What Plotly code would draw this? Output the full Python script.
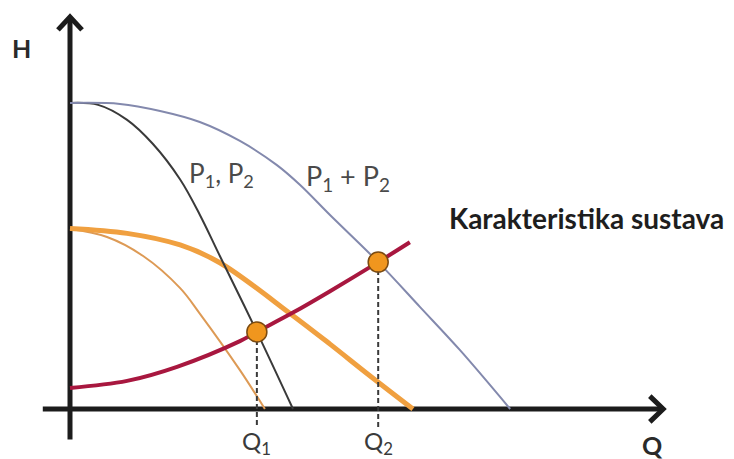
import plotly.graph_objects as go

# pump curves (Q, H in arbitrary units)
q_single = [0, 0.63, 1.28, 1.86, 2.47, 2.91, 3.36, 4.19, 5.0]
h_single = [10.0, 9.94, 9.45, 8.66, 7.5, 6.35, 5.0, 2.52, 0]

q_parallel = [0, 1.12, 2.02, 2.91, 3.81, 4.64, 5.16, 5.83, 6.91, 7.85, 8.74, 9.87]
h_parallel = [10.0, 9.97, 9.74, 9.38, 8.76, 7.97, 7.32, 6.34, 4.8, 3.33, 1.93, 0]

q_orange_thick = [0, 1.28, 2.47, 3.36, 5.0, 5.83, 6.73, 7.69]
h_orange_thick = [5.9, 5.74, 5.36, 4.78, 3.05, 2.12, 1.08, 0]

q_orange_thin = [0, 0.83, 1.64, 2.47, 2.91, 3.81, 4.37]
h_orange_thin = [5.88, 5.62, 5.0, 3.95, 3.12, 1.27, 0]

q_system = [0, 1.28, 2.40, 3.81, 4.19, 5.0, 5.83, 6.91, 7.62]
h_system = [0.69, 0.92, 1.38, 2.22, 2.52, 3.15, 3.85, 4.8, 5.45]

op_q = [4.19, 6.91]
op_h = [2.52, 4.8]
op_labels = ["Q<sub>1</sub>", "Q<sub>2</sub>"]

font = "Lato"

fig = go.Figure()

# axes with open arrowheads
q_max, h_max = 13.3, 12.81
axis_style = dict(color="#1c1c1c", width=5)
fig.add_trace(go.Scatter(x=[0, 0], y=[-1.0, h_max], mode="lines", line=axis_style))
fig.add_trace(go.Scatter(x=[-0.61, q_max], y=[0, 0], mode="lines", line=axis_style))
fig.add_trace(go.Scatter(x=[-0.27, 0, 0.27], y=[h_max - 0.42, h_max, h_max - 0.42],
                         mode="lines", line=dict(color="#1c1c1c", width=5)))
fig.add_trace(go.Scatter(x=[q_max - 0.3, q_max, q_max - 0.3], y=[0.42, 0, -0.42],
                         mode="lines", line=dict(color="#1c1c1c", width=5)))

# curves
fig.add_trace(go.Scatter(x=q_orange_thin, y=h_orange_thin, mode="lines", line_shape="spline",
                         line=dict(color="#dd9a55", width=2)))
fig.add_trace(go.Scatter(x=q_orange_thick, y=h_orange_thick, mode="lines", line_shape="spline",
                         line=dict(color="#f0a040", width=5)))
fig.add_trace(go.Scatter(x=q_single, y=h_single, mode="lines", line_shape="spline",
                         line=dict(color="#3a3a3a", width=2)))
fig.add_trace(go.Scatter(x=q_parallel, y=h_parallel, mode="lines", line_shape="spline",
                         line=dict(color="#8389ad", width=2)))
fig.add_trace(go.Scatter(x=q_system, y=h_system, mode="lines", line_shape="spline",
                         line=dict(color="#a8173f", width=4)))

# dashed drops to the Q axis
for q, h in zip(op_q, op_h):
    fig.add_trace(go.Scatter(x=[q, q], y=[h, -0.62], mode="lines",
                             line=dict(color="#3a3a3a", width=2, dash="5px,3px")))

fig.add_trace(go.Scatter(x=op_q, y=op_h, mode="markers",
                         marker=dict(size=20, color="#f0961e",
                                     line=dict(color="#7a4a10", width=1.5))))

# labels
def label(x, y, text, size, bold=False, color="#3a3a3a"):
    fig.add_annotation(x=x, y=y, text=f"<b>{text}</b>" if bold else text, showarrow=False,
                       font=dict(family=font, size=size, color=color))

label(-1.08, 11.8, "H", 25, bold=True, color="#2a2a2a")
label(13.07, -1.18, "Q", 25, bold=True, color="#2a2a2a")
label(3.39, 7.65, "P<sub>1</sub>, P<sub>2</sub>", 26, color="#4a4a4a")
label(6.23, 7.58, "P<sub>1</sub> + P<sub>2</sub>", 27, color="#4a4a4a")
label(11.59, 6.24, "Karakteristika sustava", 28, bold=True, color="#1e1e1e")
for q, t in zip(op_q, op_labels):
    label(q, -1.11, t, 24, color="#3a3a3a")

# page body has an 8px margin, so shift the plot area to compensate
ox, oy = 62, 401
fig.update_layout(
    width=734, height=459, autosize=False,
    margin=dict(l=0, r=0, t=0, b=0),
    paper_bgcolor="white", plot_bgcolor="white",
    showlegend=False,
    xaxis=dict(range=[-ox / 44.6, (734 - ox) / 44.6], visible=False, fixedrange=True),
    yaxis=dict(range=[(oy - 459) / 30.6, oy / 30.6], visible=False, fixedrange=True),
)

fig.write_html("out.html")
